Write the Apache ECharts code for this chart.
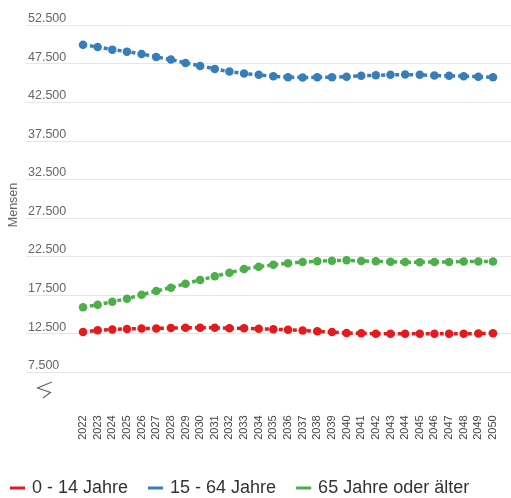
<!DOCTYPE html>
<html>
<head>
<meta charset="utf-8">
<style>
  html, body { margin: 0; padding: 0; background: #fff; }
  #chart { width: 511px; height: 498px; }
</style>
<script src="https://cdn.jsdelivr.net/npm/echarts@6/dist/echarts.min.js"></script>
</head>
<body>
<div id="chart"></div>
<script>
// Projected population by age group, 2022-2050
var years = ['2022','2023','2024','2025','2026','2027','2028','2029','2030','2031',
             '2032','2033','2034','2035','2036','2037','2038','2039','2040','2041',
             '2042','2043','2044','2045','2046','2047','2048','2049','2050'];

var age0to14 = [12735, 12942, 13046, 13123, 13175, 13188, 13240, 13266, 13266, 13266,
                13214, 13214, 13136, 13084, 13007, 12903, 12812, 12709, 12592, 12553,
                12501, 12490, 12490, 12490, 12490, 12490, 12490, 12527, 12553];

var age15to64 = [49947, 49658, 49309, 49050, 48753, 48366, 48017, 47590, 47203, 46815,
                 46466, 46208, 46040, 45846, 45743, 45704, 45717, 45743, 45807, 45937,
                 45975, 46040, 46079, 46040, 45950, 45911, 45872, 45807, 45717];

var age65plus = [15922, 16259, 16648, 17036, 17555, 18034, 18462, 18980, 19460, 19939,
                 20405, 20885, 21170, 21429, 21623, 21791, 21895, 21960, 22012, 21921,
                 21882, 21830, 21779, 21766, 21805, 21805, 21856, 21856, 21856];

var seriesNames = ['0 - 14 Jahre', '15 - 64 Jahre', '65 Jahre oder älter'];
var seriesColors = ['#e41a1c', '#377eb8', '#4daf4a'];

// value axis: ticks every 5.000 from 7.500 up to 52.500
var yMin = 7500, yMax = 52500, yStep = 5000;
var yAxisTitle = 'Mensen';

function fmtThousands(v) {
  return String(Math.round(v)).replace(/\B(?=(\d{3})+(?!\d))/g, '.');
}

var chart = echarts.init(document.getElementById('chart'), null, { renderer: 'canvas' });

var FONT = 'Arial, "Liberation Sans", sans-serif';
var gridTop = 25, gridHeight = 347.3;

function makeSeries(name, data, color) {
  return {
    name: name,
    type: 'line',
    xAxisIndex: 1,
    yAxisIndex: 1,
    data: data,
    symbol: 'circle',
    symbolSize: 8.5,
    showSymbol: true,
    lineStyle: { color: color, width: 3.5, type: [4, 3] },
    itemStyle: { color: color },
    emphasis: { disabled: true }
  };
}

chart.setOption({
  animation: false,
  backgroundColor: '#ffffff',
  grid: [
    { left: 26, right: 0, top: gridTop, height: gridHeight, containLabel: false },
    { left: 75.7, right: 10.7, top: gridTop, height: gridHeight, containLabel: false }
  ],
  legend: {
    data: seriesNames.map(function (n, i) {
      return { name: n, itemStyle: { color: seriesColors[i] } };
    }),
    left: 5,
    top: 474,
    icon: 'rect',
    itemWidth: 15,
    itemHeight: 3,
    itemGap: 20,
    selectedMode: false,
    textStyle: { fontFamily: FONT, fontSize: 18, color: '#333', padding: [0, 0, 0, 2] }
  },
  xAxis: [
    { gridIndex: 0, type: 'value', show: false, min: 0, max: 1 },
    {
      gridIndex: 1,
      type: 'category',
      data: years,
      boundaryGap: true,
      axisLine: { show: false },
      axisTick: { show: false },
      splitLine: { show: false },
      axisLabel: {
        interval: 0,
        rotate: 90,
        margin: 43,
        fontFamily: FONT,
        fontSize: 11,
        color: '#444'
      }
    }
  ],
  yAxis: [
    {
      gridIndex: 0,
      type: 'value',
      min: yMin,
      max: yMax,
      interval: yStep,
      axisLine: { show: false },
      axisTick: { show: false },
      splitLine: { show: true, lineStyle: { color: '#e6e6e6', width: 1 } },
      axisLabel: {
        inside: true,
        margin: 2,
        verticalAlign: 'bottom',
        fontFamily: FONT,
        fontSize: 12.5,
        color: '#666',
        formatter: fmtThousands
      }
    },
    {
      gridIndex: 1,
      type: 'value',
      min: yMin,
      max: yMax,
      interval: yStep,
      show: false,
      splitLine: { show: false }
    }
  ],
  graphic: [
    {
      type: 'text',
      x: 14,
      y: 205,
      rotation: Math.PI / 2,
      style: {
        text: yAxisTitle,
        font: '12.5px ' + FONT,
        fill: '#666',
        align: 'center',
        verticalAlign: 'middle'
      }
    },
    {
      // axis break marker below the value axis
      type: 'polyline',
      shape: { points: [[52, 382], [37.5, 388], [50.5, 392.5], [43, 398]] },
      style: { stroke: '#666', lineWidth: 1.2, fill: null }
    }
  ],
  series: [
    makeSeries(seriesNames[0], age0to14, seriesColors[0]),
    makeSeries(seriesNames[1], age15to64, seriesColors[1]),
    makeSeries(seriesNames[2], age65plus, seriesColors[2])
  ]
});
</script>
</body>
</html>
